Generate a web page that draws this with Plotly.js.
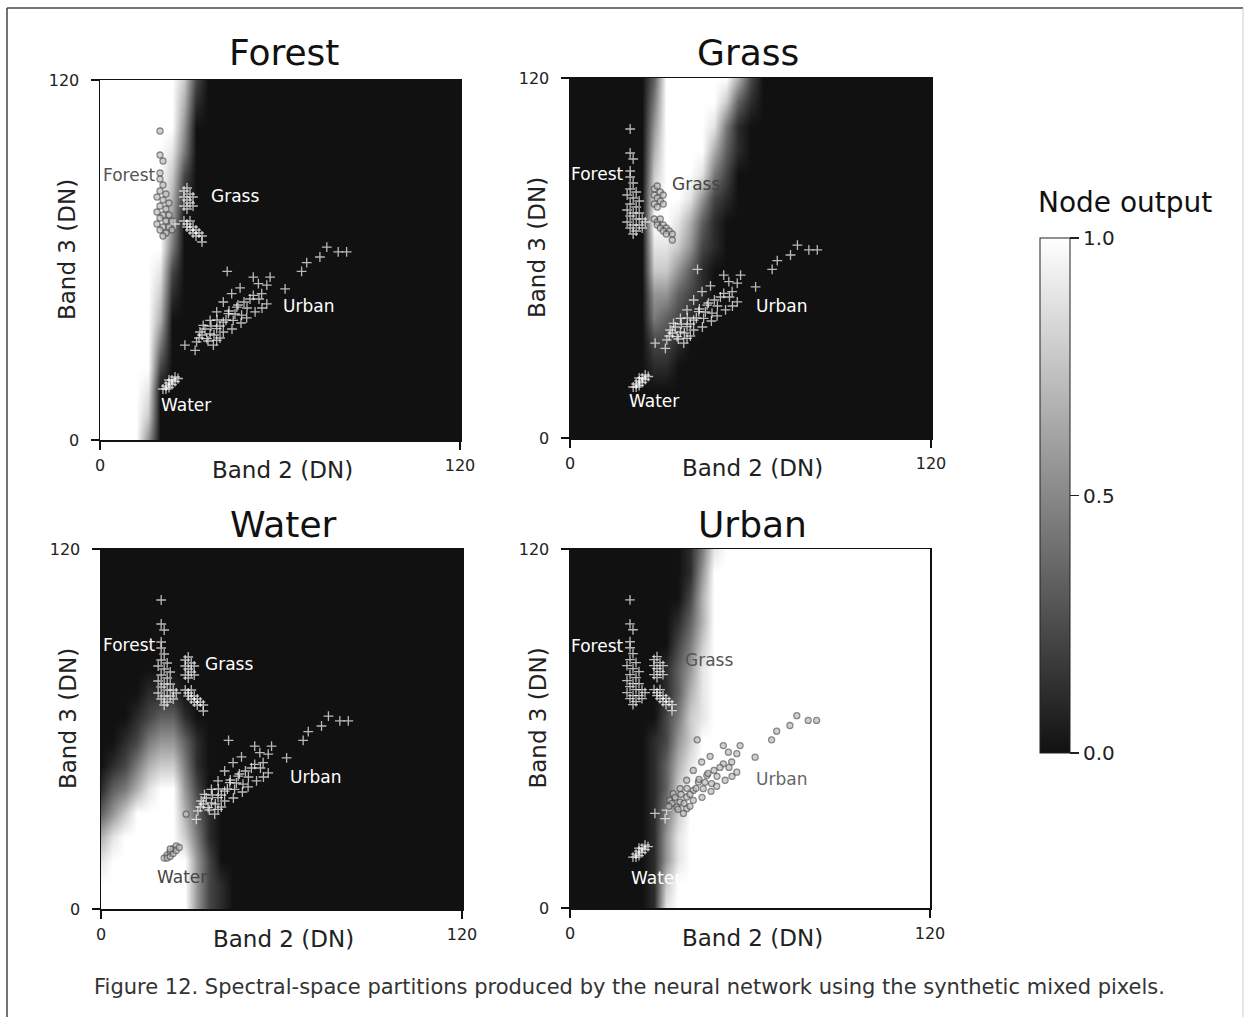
<!DOCTYPE html>
<html>
<head>
<meta charset="utf-8">
<script src="https://cdn.plot.ly/plotly-3.0.1.min.js"></script>
<style>
  html, body { margin: 0; padding: 0; background: #fff; }
  #chart { width: 1249px; height: 1017px; }
</style>
</head>
<body>
<div id="chart"></div>
<script>
// ---------- grid of the partition images (Band 2 = x, Band 3 = y) ----------
const xGrid = [0,4,8,12,16,20,24,28,32,36,40,44,48,52,56,60,64,68,72,76,80,84,88,92,96,100,104,108,112,116,120];
const yGrid = [0,8,16,24,32,40,48,56,64,72,80,88,96,104,112,120];

// Node output, one string per y row (bottom row first),
// one digit per x column (0 = 0.0 ... 9 = 1.0); the last digit repeats to the right edge.
const forestRows = [
  "999950","999970","999980","9999920","9999940","9999960","99999710","99999820",
  "99999940","99999950","999999610","999999720","999999840","999999950","9999999610","9999999720"
];
const grassRows = [
  "0","0","0","0000000110","00000002210","000000043210","0000000553210","0000000775310",
  "00000008875210","00000009986310","000000089985210","000000079998420","0000000699996310",
  "0000000599998410","00000004999997310","00000003999999620"
];
const waterRows = [
  "999999995210","999999995210","89999999520","68999997410","35799996310","1346899520",
  "0124677410","0012455310","000123310","00001110","0","0","0","0","0","0"
];
const urbanRows = [
  "0000000189","0000000179","00000001589","00000001589","00000001479","00000001379",
  "000000013689","000000012579","0000000024789","0000000013689","0000000013589",
  "0000000002479","0000000001369","0000000000269","0000000000159","00000000001489"
];

// ---------- training pixels (Band 2, Band 3) ----------
const forestX = [20,20,21,20,20,21,20,22,19,21,23,20,22,19,21,23,20,22,24,19,21,23,20,22,21,25,24];
const forestY = [103,95,93,89,87,85,83,82,81,80,79,78,77,76,75,75,74,73,73,72,71,71,70,69,68,72,70];
const grassX = [28,29,30,28,31,29,30,28,31,29, 28,29,30,29,31,30,32,31,33,32,34,34];
const grassY = [83,84,82,81,81,80,79,78,78,77, 73,72,73,71,71,70,70,69,69,68,68,66];
const urbanX = [75.6,79.4,82.2,73.3,68.9,67.2,42.4,51.1,56.7,52.8,55.6,46.7,61.7,43.9,51.1,53.9,41.1,55.6,45.6,38.9,
                42.8,47.2,51.7,48.9,36.7,41.1,44.4,34.4,38.9,33.3,36.7,41.1,35.6,38.9,32.2,37.8,28.3,31.7,
                35,37,39,40,42,43,45,46,48,49,50,38,40,36,34,33,44,47,53,54];
const urbanY = [64.3,62.7,62.7,61,59.1,56.2,56.2,54.3,54.3,52.1,51.6,50.7,50.4,48.8,48.2,48.8,46,45.4,44.3,42.7,
                42.1,41.6,42.7,40.7,39.9,39.3,39.9,38.2,37.1,36,35.4,36,33.8,33.2,32.7,31.6,31.6,29.9,
                37,38,40,38,40,43,42,45,46,44,47,35,34,33,35,34,37,39,47,44];
const waterX = [21,22,23,24,25,22,23,24,25,23,26];
const waterY = [17,18,19,20,21,17,17.5,18.5,19.5,20,20.5];

// ---------- text ----------
const panelTitles = ["Forest","Grass","Water","Urban"];
const classNames = ["Forest","Grass","Urban","Water"];
const xTitle = "Band 2 (DN)";
const yTitle = "Band 3 (DN)";
const tickVals = [0,120];
const cbTickVals = [0,0.5,1];
const cbTickText = ["0.0","0.5","1.0"];
const cbTitle = "Node output";
const caption = "Figure 12. Spectral-space partitions produced by the neural network using the synthetic mixed pixels.";

// label placement per panel: [x, y, anchor] for Forest, Grass, Urban, Water
const labelPos = [
  [[19.3,88.3,'right'],[36.3,81.3,'left'],[60.3,44.7,'left'],[19.7,11.7,'left']],
  [[18.7,88.0,'right'],[33.3,84.7,'left'],[61.0,44.0,'left'],[19.0,12.3,'left']],
  [[19.0,88.0,'right'],[34.0,81.7,'left'],[62.0,44.0,'left'],[18.0,10.7,'left']],
  [[18.7,87.7,'right'],[37.7,83.0,'left'],[61.3,43.0,'left'],[19.7,10.0,'left']]
];
const labelColors = [
  ['#555','#fff','#fff','#fff'],
  ['#fff','#444','#fff','#fff'],
  ['#fff','#fff','#fff','#444'],
  ['#fff','#555','#666','#fff']
];

// ---------- build ----------
const W = 1249, H = 1017;
const FONT = 'DejaVu Sans, Liberation Sans, sans-serif';
function parseRows(rows) {
  return rows.map(r => r.padEnd(xGrid.length, r[r.length - 1]).split('').map(d => Number(d) / 9));
}
const fields = [parseRows(forestRows), parseRows(grassRows), parseRows(waterRows), parseRows(urbanRows)];

function lookup(z, x, y) {
  const dx = xGrid[1] - xGrid[0], dy = yGrid[1] - yGrid[0];
  let i = Math.min(Math.floor(x / dx), xGrid.length - 2), j = Math.min(Math.floor(y / dy), yGrid.length - 2);
  const fx = x / dx - i, fy = y / dy - j;
  return z[j][i]*(1-fx)*(1-fy) + z[j][i+1]*fx*(1-fy) + z[j+1][i]*(1-fx)*fy + z[j+1][i+1]*fx*fy;
}

// panel pixel boxes [left, right, top, bottom]
const boxes = [[100,460,80,440],[570,931,78,438],[101,462,549,909],[570,930,549,908]];
const titlePos = [[284,53],[748,52],[283,524],[752,524]];

const allX = [].concat(forestX, grassX, urbanX, waterX);
const allY = [].concat(forestY, grassY, urbanY, waterY);

const colorscale = [[0,'#111111'],[1,'#ffffff']];
const data = [];
const layout = {
  width: W, height: H,
  margin: {l:0, r:0, t:0, b:0},
  paper_bgcolor: '#fff', plot_bgcolor: '#fff',
  showlegend: false,
  font: {family: FONT, color: '#222'},
  annotations: [], shapes: []
};

fields.forEach((z, k) => {
  const sfx = k === 0 ? '' : String(k + 1);
  const b = boxes[k];
  data.push({
    type: 'heatmap', x: xGrid, y: yGrid, z: z, zmin: 0, zmax: 1,
    zsmooth: 'best', colorscale: colorscale, hoverinfo: 'skip',
    xaxis: 'x' + sfx, yaxis: 'y' + sfx,
    showscale: k === 0,
    colorbar: {
      x: 1040 / W, xanchor: 'left', xpad: 0, ypad: 0,
      y: 1 - 495.5 / H, yanchor: 'middle',
      thickness: 30, thicknessmode: 'pixels', len: 515, lenmode: 'pixels',
      outlinecolor: '#222', outlinewidth: 1,
      ticks: 'outside', ticklen: 9, tickwidth: 1.5, tickcolor: '#222',
      tickvals: cbTickVals, ticktext: cbTickText,
      tickfont: {size: 20, family: FONT, color: '#222'}
    }
  });
  const inside = allX.map((x, i) => lookup(z, x, allY[i]) > 0.5);
  data.push({
    type: 'scatter', mode: 'markers', x: allX, y: allY,
    xaxis: 'x' + sfx, yaxis: 'y' + sfx, hoverinfo: 'skip', cliponaxis: true,
    marker: {
      symbol: inside.map(v => v ? 'circle' : 'cross-thin-open'),
      size: inside.map(v => v ? 6 : 7),
      color: inside.map(v => v ? '#bdbdbd' : '#ffffff'),
      line: {color: inside.map(v => v ? '#555' : '#ffffff'), width: 1.3}
    }
  });
  const axCommon = {
    range: [0,120], tickvals: tickVals, ticks: 'outside', ticklen: 8, tickwidth: 1.5,
    tickcolor: '#111', showline: true, linecolor: '#111', linewidth: 1.5, mirror: true,
    showgrid: false, zeroline: false, fixedrange: true,
    tickfont: {size: 16, family: FONT, color: '#222'}
  };
  layout['xaxis' + sfx] = Object.assign({}, axCommon, {
    domain: [b[0] / W, b[1] / W], anchor: 'y' + sfx, ticklabelstandoff: 2
  });
  layout['yaxis' + sfx] = Object.assign({}, axCommon, {
    domain: [1 - b[3] / H, 1 - b[2] / H], anchor: 'x' + sfx, ticklabelstandoff: 8
  });
  // panel title
  layout.annotations.push({
    xref: 'paper', yref: 'paper', x: titlePos[k][0] / W, y: 1 - titlePos[k][1] / H,
    text: panelTitles[k], showarrow: false, xanchor: 'center', yanchor: 'middle',
    font: {size: 36, family: FONT, color: '#111'}
  });
  // axis titles
  layout.annotations.push({
    xref: 'paper', yref: 'paper', x: ((b[0] + b[1]) / 2 + 2) / W, y: 1 - (b[3] + 30) / H,
    text: xTitle, showarrow: false, xanchor: 'center', yanchor: 'middle',
    font: {size: 23, family: FONT, color: '#222'}
  });
  layout.annotations.push({
    xref: 'paper', yref: 'paper', x: (b[0] - 33) / W, y: 1 - ((b[2] + b[3]) / 2 - 10) / H,
    text: yTitle, showarrow: false, textangle: -90, xanchor: 'center', yanchor: 'middle',
    font: {size: 23, family: FONT, color: '#222'}
  });
  // class labels
  classNames.forEach((name, c) => {
    const p = labelPos[k][c];
    layout.annotations.push({
      xref: 'x' + sfx, yref: 'y' + sfx, x: p[0], y: p[1], text: name,
      showarrow: false, xanchor: p[2], yanchor: 'middle',
      font: {size: 17, family: FONT, color: labelColors[k][c]}
    });
  });
});

// colorbar title and caption
layout.annotations.push({
  xref: 'paper', yref: 'paper', x: 1036 / W, y: 1 - 203 / H, text: cbTitle,
  showarrow: false, xanchor: 'left', yanchor: 'middle',
  font: {size: 28, family: FONT, color: '#111'}
});
layout.annotations.push({
  xref: 'paper', yref: 'paper', x: 92 / W, y: 1 - 987 / H, text: caption,
  showarrow: false, xanchor: 'left', yanchor: 'middle',
  font: {size: 21, family: FONT, color: '#333'}
});

// outer figure frame
layout.shapes.push(
  {type: 'line', xref: 'paper', yref: 'paper', x0: 7 / W, x1: 7 / W, y0: -0.01, y1: 1 - 8 / H, line: {color: '#444', width: 1.5}},
  {type: 'line', xref: 'paper', yref: 'paper', x0: 7 / W, x1: 1243 / W, y0: 1 - 8 / H, y1: 1 - 8 / H, line: {color: '#444', width: 1.5}},
  {type: 'line', xref: 'paper', yref: 'paper', x0: 1243 / W, x1: 1243 / W, y0: -0.01, y1: 1 - 8 / H, line: {color: '#ccc', width: 1}}
);

Plotly.newPlot('chart', data, layout, {displayModeBar: false, staticPlot: true});
</script>
</body>
</html>
